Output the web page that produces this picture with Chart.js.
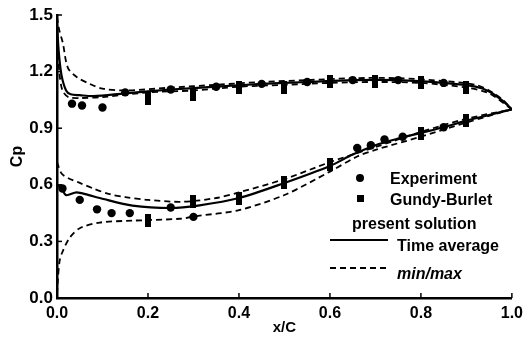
<!DOCTYPE html>
<html>
<head>
<meta charset="utf-8">
<script src="https://cdn.jsdelivr.net/npm/chart.js@4/dist/chart.umd.min.js"></script>
<style>
  html, body { margin: 0; padding: 0; background: #fff; }
  #wrap { width: 529px; height: 339px; }
</style>
</head>
<body>
<div id="wrap"><canvas id="cpChart" width="529" height="339"></canvas></div>
<script>
// axis ticks
const xTickLabels = ['0.0', '0.2', '0.4', '0.6', '0.8', '1.0'];
const yTickLabels = ['0.0', '0.3', '0.6', '0.9', '1.2', '1.5'];

// present solution, time average (upper / lower surface)
const upperAvgX  = [0, 0.004, 0.01, 0.02, 0.03, 0.05, 0.08, 0.15, 0.25, 0.35, 0.45, 0.55, 0.65, 0.75, 0.85, 0.92, 0.95, 0.98, 1.0];
const upperAvgCp = [1.45, 1.30, 1.18, 1.10, 1.08, 1.075, 1.07, 1.085, 1.105, 1.12, 1.135, 1.145, 1.155, 1.155, 1.14, 1.12, 1.095, 1.045, 1.0];
const lowerAvgX  = [0, 0.01, 0.02, 0.043, 0.07, 0.094, 0.166, 0.25, 0.31, 0.4, 0.5, 0.6, 0.65, 0.7, 0.75, 0.8, 0.85, 0.9, 0.95, 1.0];
const lowerAvgCp = [0.60, 0.58, 0.545, 0.56, 0.545, 0.53, 0.49, 0.477, 0.49, 0.53, 0.61, 0.70, 0.76, 0.81, 0.845, 0.875, 0.905, 0.94, 0.97, 1.0];

// present solution, min/max envelopes
const upperMaxX  = [0, 0.005, 0.013, 0.024, 0.044, 0.072, 0.10, 0.15, 0.25, 0.35, 0.45, 0.55, 0.65, 0.75, 0.85, 0.92, 0.95, 0.98, 1.0];
const upperMaxCp = [1.49, 1.42, 1.35, 1.22, 1.17, 1.135, 1.11, 1.10, 1.115, 1.13, 1.145, 1.155, 1.165, 1.165, 1.15, 1.13, 1.10, 1.05, 1.0];
const upperMinX  = [0, 0.005, 0.012, 0.025, 0.05, 0.1, 0.2, 0.3, 0.4, 0.5, 0.6, 0.7, 0.8, 0.9, 0.95, 1.0];
const upperMinCp = [1.40, 1.20, 1.10, 1.065, 1.06, 1.065, 1.09, 1.10, 1.12, 1.13, 1.14, 1.145, 1.14, 1.115, 1.085, 1.0];
const lowerMaxX  = [0, 0.01, 0.025, 0.05, 0.08, 0.116, 0.15, 0.2, 0.275, 0.35, 0.4, 0.5, 0.6, 0.7, 0.8, 0.9, 1.0];
const lowerMaxCp = [0.72, 0.66, 0.635, 0.61, 0.58, 0.55, 0.535, 0.52, 0.51, 0.53, 0.56, 0.63, 0.72, 0.80, 0.88, 0.95, 1.0];
const lowerMinX  = [0, 0.002, 0.006, 0.013, 0.028, 0.05, 0.094, 0.166, 0.27, 0.31, 0.4, 0.5, 0.6, 0.66, 0.7, 0.8, 0.9, 1.0];
const lowerMinCp = [0.02, 0.10, 0.20, 0.25, 0.32, 0.37, 0.40, 0.41, 0.42, 0.435, 0.466, 0.546, 0.67, 0.75, 0.785, 0.855, 0.93, 1.0];

// experiment
const expX  = [0.033, 0.055, 0.10, 0.15, 0.25, 0.35, 0.45, 0.55, 0.65, 0.75, 0.85,
               0.012, 0.05, 0.088, 0.12, 0.16, 0.25, 0.30, 0.66, 0.69, 0.72, 0.76, 0.85];
const expCp = [1.03, 1.02, 1.01, 1.09, 1.105, 1.12, 1.135, 1.145, 1.155, 1.155, 1.14,
               0.58, 0.52, 0.47, 0.45, 0.45, 0.48, 0.43, 0.795, 0.81, 0.84, 0.855, 0.905];

// Gundy-Burlet
const gbX  = [0.2, 0.3, 0.4, 0.5, 0.6, 0.7, 0.8, 0.9,
              0.2, 0.3, 0.4, 0.5, 0.6, 0.8, 0.9];
const gbCp = [1.06, 1.08, 1.115, 1.115, 1.145, 1.145, 1.14, 1.115,
              0.41, 0.51, 0.53, 0.61, 0.705, 0.87, 0.94];

const pts = (xs, ys) => xs.map((x, i) => ({ x: x, y: ys[i] }));

// tall narrow block used for the Gundy-Burlet marks
const barMark = document.createElement('canvas');
barMark.width = 6;
barMark.height = 13;
barMark.getContext('2d').fillRect(0, 0, 6, 13);

const FONT = '"Liberation Sans", Arial, sans-serif';

const lineSet = (data, dashed) => ({
    data: data,
    showLine: true,
    borderColor: '#000',
    borderWidth: dashed ? 1.8 : 2.2,
    borderDash: dashed ? [6, 4] : [],
    pointRadius: 0,
    tension: 0.3,
    fill: false
});

// small inward ticks on the two axes
const innerTicks = {
    id: 'innerTicks',
    afterDatasetsDraw(chart) {
        const ctx = chart.ctx;
        const xs = chart.scales.x, ys = chart.scales.y;
        const a = chart.chartArea;
        ctx.save();
        ctx.strokeStyle = '#000';
        ctx.lineWidth = 1.5;
        xs.ticks.forEach(t => {
            const px = xs.getPixelForValue(t.value);
            ctx.beginPath(); ctx.moveTo(px, a.bottom); ctx.lineTo(px, a.bottom - 5); ctx.stroke();
        });
        ys.ticks.forEach(t => {
            const py = ys.getPixelForValue(t.value);
            ctx.beginPath(); ctx.moveTo(a.left, py); ctx.lineTo(a.left + 5, py); ctx.stroke();
        });
        ctx.restore();
    }
};

// legend in the lower right, like the original figure
const cornerLegend = {
    id: 'cornerLegend',
    afterDraw(chart) {
        const ctx = chart.ctx;
        ctx.save();
        ctx.fillStyle = '#000';
        ctx.strokeStyle = '#000';
        ctx.textBaseline = 'alphabetic';
        ctx.textAlign = 'left';
        ctx.font = 'bold 16px ' + FONT;

        ctx.beginPath(); ctx.arc(360, 178, 4, 0, Math.PI * 2); ctx.fill();
        ctx.fillText('Experiment', 390, 184);

        ctx.fillRect(357, 195, 7, 7);
        ctx.fillText('Gundy-Burlet', 390, 205);

        ctx.fillText('present solution', 352, 229);

        ctx.lineWidth = 2;
        ctx.beginPath(); ctx.moveTo(330, 240); ctx.lineTo(388, 240); ctx.stroke();
        ctx.fillText('Time average', 397, 251);

        ctx.lineWidth = 1.8;
        ctx.setLineDash([6, 4]);
        ctx.beginPath(); ctx.moveTo(330, 268); ctx.lineTo(386, 268); ctx.stroke();
        ctx.setLineDash([]);
        ctx.font = 'italic bold 16px ' + FONT;
        ctx.fillText('min/max', 397, 279);
        ctx.restore();
    }
};

new Chart(document.getElementById('cpChart'), {
    type: 'scatter',
    data: {
        datasets: [
            lineSet(pts(upperAvgX, upperAvgCp), false),
            lineSet(pts(lowerAvgX, lowerAvgCp), false),
            lineSet(pts(upperMaxX, upperMaxCp), true),
            lineSet(pts(upperMinX, upperMinCp), true),
            lineSet(pts(lowerMaxX, lowerMaxCp), true),
            lineSet(pts(lowerMinX, lowerMinCp), true),
            {
                data: pts(expX, expCp),
                pointStyle: 'circle',
                pointRadius: 4.2,
                backgroundColor: '#000',
                borderColor: '#000',
                borderWidth: 0
            },
            {
                data: pts(gbX, gbCp),
                pointStyle: barMark,
                backgroundColor: '#000',
                borderColor: '#000'
            }
        ]
    },
    options: {
        responsive: false,
        animation: false,
        layout: { padding: { top: 15, right: 14, left: 0, bottom: 0 } },
        plugins: {
            legend: { display: false },
            tooltip: { enabled: false }
        },
        scales: {
            x: {
                type: 'linear',
                min: 0,
                max: 1,
                afterFit: s => { s.height = 41; },
                border: { color: '#000', width: 2.5 },
                grid: { drawOnChartArea: false, drawTicks: false },
                ticks: {
                    stepSize: 0.2,
                    padding: 6,
                    color: '#000',
                    font: { family: FONT, size: 16, weight: 'bold' },
                    callback: (v, i) => xTickLabels[i]
                },
                title: {
                    display: true,
                    text: 'x/C',
                    color: '#000',
                    padding: { top: 0, bottom: 2 },
                    font: { family: FONT, size: 15, weight: 'bold' }
                }
            },
            y: {
                type: 'linear',
                min: 0,
                max: 1.5,
                afterFit: s => { s.width = 57; },
                border: { color: '#000', width: 2.5 },
                grid: { drawOnChartArea: false, drawTicks: false },
                ticks: {
                    stepSize: 0.3,
                    padding: 4,
                    color: '#000',
                    font: { family: FONT, size: 17, weight: 'bold' },
                    callback: (v, i) => yTickLabels[i]
                },
                title: {
                    display: true,
                    text: 'Cp',
                    color: '#000',
                    padding: { top: 8, bottom: 0 },
                    font: { family: FONT, size: 16, weight: 'bold' }
                }
            }
        }
    },
    plugins: [innerTicks, cornerLegend]
});
</script>
</body>
</html>
